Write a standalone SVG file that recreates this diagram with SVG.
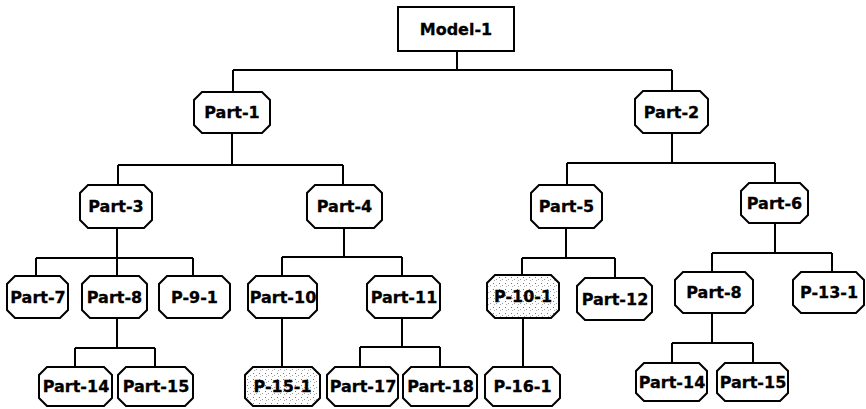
<svg xmlns="http://www.w3.org/2000/svg" width="866" height="409" viewBox="0 0 866 409">
<style>
.n{fill:#fff;stroke:#000;stroke-width:2}
.s{fill:url(#dots);stroke:#000;stroke-width:2}
.t{font-family:"DejaVu Sans","Liberation Sans",sans-serif;font-weight:bold;font-size:16px;fill:#000;stroke:#000;stroke-width:0.3;text-anchor:middle}
.c{fill:none;stroke:#000;stroke-width:2}
</style>
<defs>
<pattern id="dots" width="6" height="6" patternUnits="userSpaceOnUse">
<rect width="6" height="6" fill="#fff"/>
<rect x="1" y="1" width="1" height="1" fill="#777"/>
<rect x="4" y="3" width="1" height="1" fill="#999"/>
<rect x="2" y="4" width="1" height="1" fill="#aaa"/>
</pattern>
</defs>
<rect width="866" height="409" fill="#fff"/>
<g id="connectors" class="c">
<path d="M457,51V70M233,70H672M233,70V92M672,70V91"/>
<path d="M232,133V165M118,165H343M118,165V185M343,165V185"/>
<path d="M672,133V163M567,163H775M567,163V185M775,163V183"/>
<path d="M117,228V258M36,258H193M36,258V276M117,258V276M193,258V276"/>
<path d="M344,228V257M282,257H402M282,257V276M402,257V276"/>
<path d="M566,228V258M522,258H615M522,258V275M615,258V278"/>
<path d="M775,223V253M712,253H832M712,253V272M832,253V272"/>
<path d="M117,318V348M75,348H155M75,348V367M155,348V367"/>
<path d="M282,318V367"/>
<path d="M402,318V347M360,347H440M360,347V367M440,347V367"/>
<path d="M523,318V367"/>
<path d="M712,313V343M672,343H753M672,343V363M753,343V363"/>
</g>
<g id="model-1"><rect class="n" x="398" y="7" width="116" height="44"/><text class="t" x="456" y="35">Model-1</text></g>
<g id="part-1"><path class="n" d="M202,92h60l8,8v25l-8,8h-60l-8,-8v-25z"/><text class="t" x="232" y="118">Part-1</text></g>
<g id="part-2"><path class="n" d="M643,91h57l8,8v26l-8,8h-57l-8,-8v-26z"/><text class="t" x="671.5" y="118">Part-2</text></g>
<g id="part-3"><path class="n" d="M88,185h56l8,8v27l-8,8h-56l-8,-8v-27z"/><text class="t" x="116" y="212">Part-3</text></g>
<g id="part-4"><path class="n" d="M315,185h59l8,8v27l-8,8h-59l-8,-8v-27z"/><text class="t" x="344.5" y="212">Part-4</text></g>
<g id="part-5"><path class="n" d="M539,185h55l8,8v27l-8,8h-55l-8,-8v-27z"/><text class="t" x="566.5" y="212">Part-5</text></g>
<g id="part-6"><path class="n" d="M749,183h51l8,8v24l-8,8h-51l-8,-8v-24z"/><text class="t" x="774.5" y="208.5">Part-6</text></g>
<g id="part-7"><path class="n" d="M15,276h45l8,8v26l-8,8h-45l-8,-8v-26z"/><text class="t" x="38" y="302.5">Part-7</text></g>
<g id="part-8a"><path class="n" d="M90,276h49l8,8v26l-8,8h-49l-8,-8v-26z"/><text class="t" x="114.5" y="302.5">Part-8</text></g>
<g id="p-9-1"><path class="n" d="M167,276h55l8,8v26l-8,8h-55l-8,-8v-26z"/><text class="t" x="194.5" y="302.5">P-9-1</text></g>
<g id="part-10"><path class="n" d="M256,276h53l8,8v26l-8,8h-53l-8,-8v-26z"/><text class="t" x="283" y="302.5">Part-10</text></g>
<g id="part-11"><path class="n" d="M375,276h57l8,8v26l-8,8h-57l-8,-8v-26z"/><text class="t" x="404" y="302.5">Part-11</text></g>
<g id="p-10-1"><path class="s" d="M495,275h56l8,8v27l-8,8h-56l-8,-8v-27z"/><text class="t" x="523" y="302">P-10-1</text></g>
<g id="part-12"><path class="n" d="M585,278h59l8,8v26l-8,8h-59l-8,-8v-26z"/><text class="t" x="615" y="304.5">Part-12</text></g>
<g id="part-8b"><path class="n" d="M683,272h62l8,8v25l-8,8h-62l-8,-8v-25z"/><text class="t" x="714" y="298">Part-8</text></g>
<g id="p-13-1"><path class="n" d="M801,272h55l8,8v25l-8,8h-55l-8,-8v-25z"/><text class="t" x="829" y="298">P-13-1</text></g>
<g id="part-14a"><path class="n" d="M47,367h57l8,8v23l-8,8h-57l-8,-8v-23z"/><text class="t" x="76" y="392">Part-14</text></g>
<g id="part-15a"><path class="n" d="M126,367h59l8,8v23l-8,8h-59l-8,-8v-23z"/><text class="t" x="156" y="392">Part-15</text></g>
<g id="p-15-1"><path class="s" d="M253,367h59l8,8v23l-8,8h-59l-8,-8v-23z"/><text class="t" x="282.5" y="392">P-15-1</text></g>
<g id="part-17"><path class="n" d="M335,367h55l8,8v23l-8,8h-55l-8,-8v-23z"/><text class="t" x="363" y="392">Part-17</text></g>
<g id="part-18"><path class="n" d="M411,367h58l8,8v23l-8,8h-58l-8,-8v-23z"/><text class="t" x="440.5" y="392">Part-18</text></g>
<g id="p-16-1"><path class="n" d="M493,367h59l8,8v23l-8,8h-59l-8,-8v-23z"/><text class="t" x="522.5" y="392">P-16-1</text></g>
<g id="part-14b"><path class="n" d="M644,363h55l8,8v22l-8,8h-55l-8,-8v-22z"/><text class="t" x="672" y="387.5">Part-14</text></g>
<g id="part-15b"><path class="n" d="M725,363h55l8,8v22l-8,8h-55l-8,-8v-22z"/><text class="t" x="753" y="387.5">Part-15</text></g>
</svg>
